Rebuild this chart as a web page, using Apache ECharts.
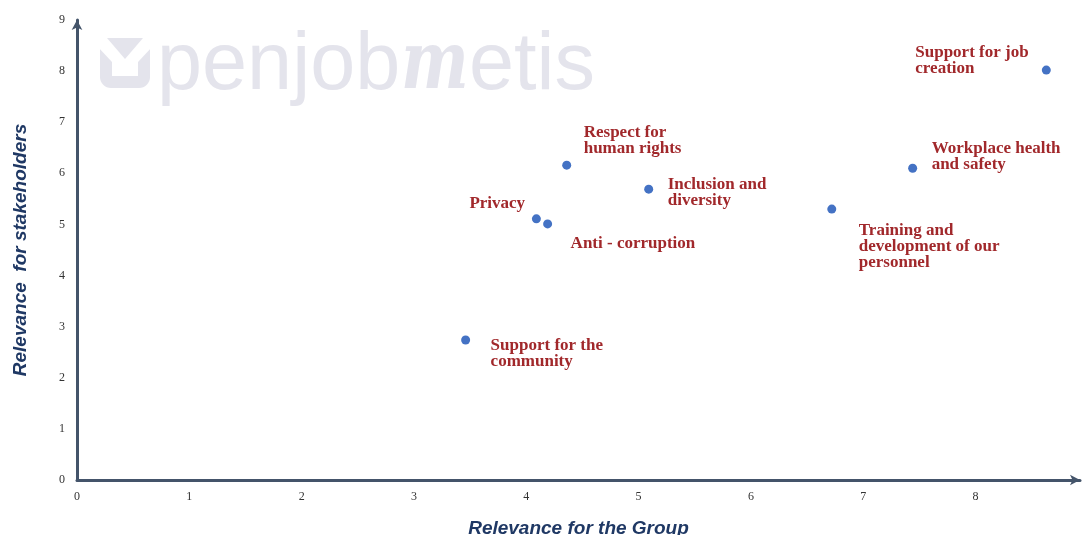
<!DOCTYPE html>
<html>
<head>
<meta charset="utf-8">
<script src="https://cdn.jsdelivr.net/npm/echarts@6/dist/echarts.min.js"></script>
<style>
html,body{margin:0;padding:0;background:#fff;overflow:hidden;}
#chart{width:1083px;height:535px;}
</style>
</head>
<body>
<div id="chart"></div>
<script>
// ---- data ----
const topics = [
  "Support for job\ncreation",
  "Workplace health\nand safety",
  "Training and\ndevelopment of our\npersonnel",
  "Inclusion and\ndiversity",
  "Respect for\nhuman rights",
  "Privacy",
  "Anti - corruption",
  "Support for the\ncommunity"
];
const groupRelevance = [8.63, 7.44, 6.72, 5.09, 4.36, 4.09, 4.19, 3.46];
const stakeholderRelevance = [8.02, 6.10, 5.30, 5.69, 6.16, 5.11, 5.01, 2.74];
const xTicks = [0, 1, 2, 3, 4, 5, 6, 7, 8];
const yTicks = [0, 1, 2, 3, 4, 5, 6, 7, 8, 9];

// ---- layout (label placement relative to each point) ----
const labelOffsets = [
  [-131, -25], [19, -28], [27, 13], [19, -13],
  [17, -41], [-67, -23], [23, 12], [25, -2]
];

const axisColor = '#44546a';
const chart = echarts.init(document.getElementById('chart'), null, {renderer: 'canvas'});

const points = topics.map((t, i) => ({
  value: [groupRelevance[i], stakeholderRelevance[i]],
  name: t,
  label: { offset: labelOffsets[i] }
}));

const wmColor = '#e4e4ec';
chart.setOption({
  animation: false,
  backgroundColor: '#ffffff',
  graphic: [
    { type: 'rect', shape: { x: 100, y: 38, width: 50, height: 50, r: 11 }, style: { fill: wmColor }, z: -10 },
    { type: 'polygon', shape: { points: [[97, 35], [153, 35], [153, 46], [138, 62], [138, 76], [112, 76], [112, 62], [97, 46]] }, style: { fill: '#ffffff' }, z: -9 },
    { type: 'polygon', shape: { points: [[107, 38], [143, 38], [125, 59]] }, style: { fill: wmColor }, z: -8 },
    { type: 'text', x: 157, y: 26.5, style: { text: 'penjob', font: '81px "Liberation Sans", Arial, sans-serif', fill: wmColor }, z: -10 },
    { type: 'text', x: 401, y: 27.5, scaleX: 0.8, style: { text: 'm', font: 'italic bold 80px "DejaVu Serif", serif', fill: wmColor }, z: -10 },
    { type: 'text', x: 469, y: 26.5, style: { text: 'etis', font: '81px "Liberation Sans", Arial, sans-serif', fill: wmColor }, z: -10 }
  ],
  grid: { left: 77, right: 3, top: 20, bottom: 55, containLabel: false, outerBoundsMode: 'none' },
  xAxis: {
    type: 'value', min: xTicks[0], max: 8.93, interval: 1,
    name: 'Relevance for the Group', nameLocation: 'middle', nameGap: 39,
    nameTextStyle: { fontFamily: '"Liberation Sans", Arial, sans-serif', fontWeight: 'bold', fontStyle: 'italic', fontSize: 19, color: '#1f3864' },
    axisLine: { show: true, symbol: ['none', 'arrow'], symbolSize: [8, 10], lineStyle: { color: axisColor, width: 3 } },
    axisTick: { show: false },
    splitLine: { show: false },
    axisLabel: { showMaxLabel: false, margin: 11, color: '#333', fontSize: 12, fontFamily: '"Liberation Serif", "DejaVu Serif", serif',
      formatter: v => (xTicks.indexOf(v) >= 0 ? String(v) : '') }
  },
  yAxis: {
    type: 'value', min: yTicks[0], max: yTicks[yTicks.length - 1], interval: 1,
    name: 'Relevance  for stakeholders', nameLocation: 'middle', nameGap: 47, nameRotate: 90,
    nameTextStyle: { fontFamily: '"Liberation Sans", Arial, sans-serif', fontWeight: 'bold', fontStyle: 'italic', fontSize: 19, color: '#1f3864' },
    axisLine: { show: true, symbol: ['none', 'arrow'], symbolSize: [8, 10], lineStyle: { color: axisColor, width: 3 } },
    axisTick: { show: false },
    splitLine: { show: false },
    axisLabel: { margin: 12, color: '#333', fontSize: 12, fontFamily: '"Liberation Serif", "DejaVu Serif", serif' }
  },
  series: [{
    type: 'scatter',
    symbolSize: 9,
    itemStyle: { color: '#4472c4', opacity: 1 },
    data: points,
    label: {
      show: true, position: 'inside', align: 'left', verticalAlign: 'top',
      formatter: p => p.name,
      color: '#a1282b', opacity: 1, fontFamily: '"Liberation Serif", "DejaVu Serif", serif', fontWeight: 'bold',
      fontSize: 17, lineHeight: 16
    },
    emphasis: { disabled: true }
  }]
});
</script>
</body>
</html>
